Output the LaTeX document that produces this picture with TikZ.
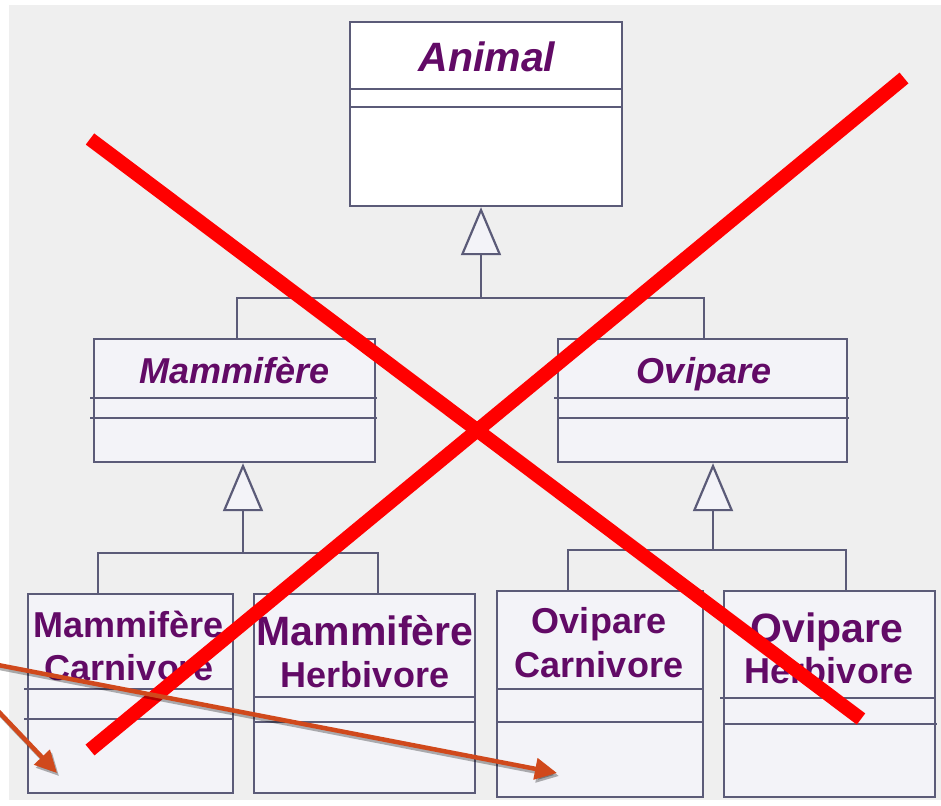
\documentclass[tikz,border=0pt]{standalone}
\usepackage{fontspec}
\setmainfont{Liberation Sans}
\usetikzlibrary{arrows.meta,calc}

\definecolor{paper}{HTML}{EFEFEF}
\definecolor{boxline}{HTML}{5B5B78}
\definecolor{boxfill}{HTML}{F3F3F8}
\definecolor{classtext}{HTML}{620A66}
\definecolor{crossred}{HTML}{FF0000}
\definecolor{pointer}{HTML}{D0491C}

\tikzset{
  classbox/.style={draw=boxline, line width=2.2pt, fill=boxfill, rectangle, inner sep=0pt, anchor=north west},
  sepline/.style={draw=boxline, line width=2.2pt},
  link/.style={draw=boxline, line width=2.2pt},
  gen/.style={link, -{Triangle[length=48pt, width=40pt, fill=boxfill, line join=miter]}},
  abstractname/.style={text=classtext, inner sep=0pt, anchor=base, font=\bfseries\itshape},
  concretename/.style={text=classtext, inner sep=0pt, anchor=base, font=\bfseries},
  cross/.style={draw=crossred, line width=14pt, line cap=butt},
  pointer arrow/.style={draw=pointer, line width=4.5pt, -{Triangle[length=22pt, width=21pt]}},
  pointer shadow/.style={draw=black, opacity=0.3, line width=4.5pt, -{Triangle[length=22pt, width=21pt]}}
}

\newcommand{\fs}[1]{\fontsize{#1}{#1}\selectfont}

\begin{document}
\begin{tikzpicture}[x=1pt, y=-1pt]
  % page and grey slide area
  \fill[white] (0,0) rectangle (941,805);
  \fill[paper] (9,5) rectangle (941,800);
  \useasboundingbox (0,0) rectangle (941,805);

  % ---------- class boxes ----------
  \node[classbox, fill=white, minimum width=272pt, minimum height=184pt] (animal) at (349,21) {};
  \draw[sepline] (349,89) -- (621,89);
  \draw[sepline] (349,107) -- (621,107);

  \node[classbox, minimum width=281pt, minimum height=123pt] (mammal) at (93,338) {};
  \draw[sepline] (90,398) -- (377,398);
  \draw[sepline] (90,418) -- (377,418);

  \node[classbox, minimum width=289pt, minimum height=123pt] (ovip) at (557,338) {};
  \draw[sepline] (554,398) -- (849,398);
  \draw[sepline] (557,418) -- (849,418);

  \node[classbox, minimum width=205pt, minimum height=199pt] (mc) at (27,593) {};
  \draw[sepline] (24,689) -- (232,689);
  \draw[sepline] (24,719) -- (232,719);

  \node[classbox, minimum width=221pt, minimum height=199pt] (mh) at (253,593) {};
  \draw[sepline] (253,697) -- (474,697);
  \draw[sepline] (253,722) -- (474,722);

  \node[classbox, minimum width=206pt, minimum height=206pt] (oc) at (496,590) {};
  \draw[sepline] (496,689) -- (702,689);
  \draw[sepline] (496,722) -- (702,722);

  \node[classbox, minimum width=211pt, minimum height=206pt] (oh) at (723,590) {};
  \draw[sepline] (720,698) -- (934,698);
  \draw[sepline] (723,724) -- (937,724);

  % ---------- class names ----------
  \node[abstractname] (tAnimal) at (487,72) {\fs{41}Animal};
  \node[abstractname] (tMammal) at (235,383) {\fs{36}Mammifère};
  \node[abstractname] (tOvip) at (704,383) {\fs{36}Ovipare};

  \node[concretename] (tMC1) at (129,637) {\fs{36}Mammifère};
  \node[concretename] (tMC2) at (129,680) {\fs{36}Carnivore};
  \node[concretename] (tMH1) at (365,645) {\fs{41}Mammifère};
  \node[concretename] (tMH2) at (365,687) {\fs{36}Herbivore};
  \node[concretename] (tOC1) at (599,633) {\fs{36}Ovipare};
  \node[concretename] (tOC2) at (599,677) {\fs{36}Carnivore};
  \node[concretename] (tOH1) at (827,642) {\fs{41}Ovipare};
  \node[concretename] (tOH2) at (829,683) {\fs{36}Herbivore};

  % ---------- generalisation links ----------
  \coordinate (jA) at (481,298);
  \coordinate (jM) at (243,553);
  \coordinate (jO) at (713,550);

  \draw[gen] (jA) -- (jA |- animal.south);
  \draw[link] (237,338 |- mammal.north) -- (237,298) -- (704,298) -- (704,338 |- ovip.north);

  \draw[gen] (jM) -- (jM |- mammal.south);
  \draw[link] (98,593 |- mc.north) -- (98,553) -- (378,553) -- (378,593 |- mh.north);

  \draw[gen] (jO) -- (jO |- ovip.south);
  \draw[link] (568,590 |- oc.north) -- (568,550) -- (846,550) -- (846,590 |- oh.north);

  % ---------- red cross ----------
  \draw[cross] (90,139) -- (861,719);
  \draw[cross] (904,78) -- (90,750);

  % ---------- orange pointers ----------
  \coordinate (p1s) at (-2,665);
  \coordinate (p1e) at (557,773);
  \coordinate (p2s) at (-2,711);
  \coordinate (p2e) at (57,773);
  \draw[pointer shadow] ($(p1s)+(2,3)$) -- ($(p1e)+(2,3)$);
  \draw[pointer shadow] ($(p2s)+(2,3)$) -- ($(p2e)+(2,3)$);
  \draw[pointer arrow] (p1s) -- (p1e);
  \draw[pointer arrow] (p2s) -- (p2e);
\end{tikzpicture}
\end{document}
